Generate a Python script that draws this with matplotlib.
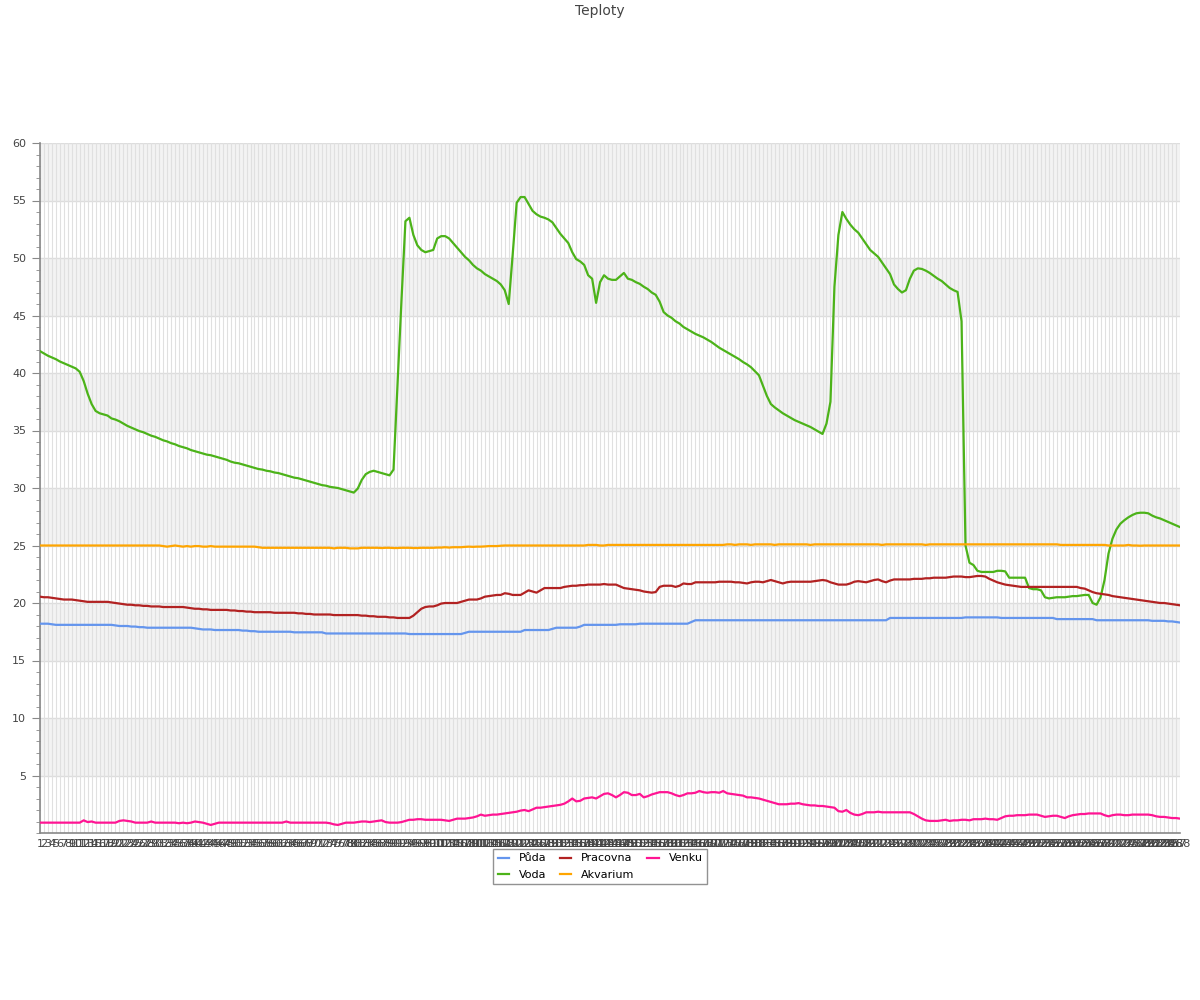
import matplotlib
matplotlib.use("Agg")
import matplotlib.pyplot as plt
from matplotlib.ticker import MultipleLocator

title = "Teploty"
series_names = ["Půda", "Voda", "Pracovna", "Akvarium", "Venku"]
series_colors = ["#6495ed", "#4cb319", "#b22222", "#ffa500", "#ff1493"]

puda = [
    18.2, 18.2, 18.2, 18.15, 18.1, 18.1, 18.1, 18.1, 18.1, 18.1,
    18.1, 18.1, 18.1, 18.1, 18.1, 18.1, 18.1, 18.1, 18.1, 18.05,
    18.0, 18.0, 18.0, 17.95, 17.95, 17.9, 17.9, 17.85, 17.85, 17.85,
    17.85, 17.85, 17.85, 17.85, 17.85, 17.85, 17.85, 17.85, 17.85, 17.8,
    17.75, 17.7, 17.7, 17.7, 17.65, 17.65, 17.65, 17.65, 17.65, 17.65,
    17.65, 17.6, 17.6, 17.55, 17.55, 17.5, 17.5, 17.5, 17.5, 17.5,
    17.5, 17.5, 17.5, 17.5, 17.45, 17.45, 17.45, 17.45, 17.45, 17.45,
    17.45, 17.45, 17.35, 17.35, 17.35, 17.35, 17.35, 17.35, 17.35, 17.35,
    17.35, 17.35, 17.35, 17.35, 17.35, 17.35, 17.35, 17.35, 17.35, 17.35,
    17.35, 17.35, 17.35, 17.3, 17.3, 17.3, 17.3, 17.3, 17.3, 17.3,
    17.3, 17.3, 17.3, 17.3, 17.3, 17.3, 17.3, 17.4, 17.5, 17.5,
    17.5, 17.5, 17.5, 17.5, 17.5, 17.5, 17.5, 17.5, 17.5, 17.5,
    17.5, 17.5, 17.65, 17.65, 17.65, 17.65, 17.65, 17.65, 17.65, 17.75,
    17.85, 17.85, 17.85, 17.85, 17.85, 17.85, 17.95, 18.1, 18.1, 18.1,
    18.1, 18.1, 18.1, 18.1, 18.1, 18.1, 18.15, 18.15, 18.15, 18.15,
    18.15, 18.2, 18.2, 18.2, 18.2, 18.2, 18.2, 18.2, 18.2, 18.2,
    18.2, 18.2, 18.2, 18.2, 18.35, 18.5, 18.5, 18.5, 18.5, 18.5,
    18.5, 18.5, 18.5, 18.5, 18.5, 18.5, 18.5, 18.5, 18.5, 18.5,
    18.5, 18.5, 18.5, 18.5, 18.5, 18.5, 18.5, 18.5, 18.5, 18.5,
    18.5, 18.5, 18.5, 18.5, 18.5, 18.5, 18.5, 18.5, 18.5, 18.5,
    18.5, 18.5, 18.5, 18.5, 18.5, 18.5, 18.5, 18.5, 18.5, 18.5,
    18.5, 18.5, 18.5, 18.5, 18.7, 18.7, 18.7, 18.7, 18.7, 18.7,
    18.7, 18.7, 18.7, 18.7, 18.7, 18.7, 18.7, 18.7, 18.7, 18.7,
    18.7, 18.7, 18.7, 18.75, 18.75, 18.75, 18.75, 18.75, 18.75, 18.75,
    18.75, 18.75, 18.7, 18.7, 18.7, 18.7, 18.7, 18.7, 18.7, 18.7,
    18.7, 18.7, 18.7, 18.7, 18.7, 18.7, 18.6, 18.6, 18.6, 18.6,
    18.6, 18.6, 18.6, 18.6, 18.6, 18.6, 18.5, 18.5, 18.5, 18.5,
    18.5, 18.5, 18.5, 18.5, 18.5, 18.5, 18.5, 18.5, 18.5, 18.5,
    18.45, 18.45, 18.45, 18.45, 18.4, 18.4, 18.35, 18.3,
]

voda = [
    41.9, 41.7, 41.5, 41.35, 41.2, 41.0, 40.85, 40.7, 40.55, 40.4,
    40.1, 39.3, 38.2, 37.3, 36.7, 36.5, 36.4, 36.3, 36.05, 35.95,
    35.8, 35.6, 35.4, 35.25, 35.1, 34.95, 34.85, 34.7, 34.55, 34.45,
    34.3, 34.15, 34.05, 33.9, 33.8, 33.65, 33.55, 33.45, 33.3, 33.2,
    33.1, 33.0, 32.9, 32.85, 32.75, 32.65, 32.55, 32.45, 32.3, 32.2,
    32.15, 32.05, 31.95, 31.85, 31.75, 31.65, 31.6, 31.5, 31.45, 31.35,
    31.3, 31.2, 31.1, 31.0, 30.9, 30.85, 30.75, 30.65, 30.55, 30.45,
    30.35, 30.25, 30.2, 30.1, 30.05, 30.0, 29.9, 29.8, 29.7, 29.6,
    29.95, 30.7, 31.2, 31.4, 31.5, 31.4, 31.3, 31.2, 31.1, 31.6,
    39.0, 46.3, 53.2, 53.5, 52.0, 51.1, 50.7, 50.5, 50.6, 50.7,
    51.7, 51.9, 51.9, 51.7, 51.3, 50.9, 50.5, 50.1, 49.8, 49.4,
    49.1, 48.9, 48.6, 48.4, 48.2, 48.0, 47.7, 47.2, 46.0, 50.3,
    54.8, 55.3, 55.3, 54.7, 54.1, 53.8, 53.6, 53.5, 53.35, 53.1,
    52.6, 52.1, 51.7, 51.3, 50.5, 49.9, 49.7, 49.4, 48.5, 48.2,
    46.1, 47.9, 48.5, 48.2, 48.1, 48.1, 48.4, 48.7, 48.2, 48.1,
    47.9, 47.75, 47.5, 47.3, 47.0, 46.8, 46.2, 45.3, 45.0, 44.8,
    44.5, 44.3, 44.0, 43.8, 43.6, 43.4, 43.25, 43.1, 42.9, 42.7,
    42.45, 42.2, 42.0, 41.8, 41.6, 41.4, 41.2, 40.95, 40.75, 40.5,
    40.15, 39.8, 38.9, 38.0, 37.3, 37.0, 36.75, 36.5, 36.3, 36.1,
    35.9, 35.75, 35.6, 35.45, 35.3, 35.1, 34.9, 34.7, 35.6, 37.5,
    47.5, 52.0, 54.0, 53.4, 52.9, 52.5, 52.2, 51.7, 51.2, 50.7,
    50.4, 50.1, 49.6, 49.1, 48.6, 47.7, 47.3, 47.0, 47.2, 48.2,
    48.9, 49.1, 49.05, 48.9, 48.7, 48.45, 48.2, 48.0, 47.7, 47.4,
    47.2, 47.05, 44.5, 25.0, 23.5, 23.3, 22.8, 22.7, 22.7, 22.7,
    22.7, 22.8, 22.8, 22.75, 22.2, 22.2, 22.2, 22.2, 22.2, 21.3,
    21.2, 21.2, 21.1, 20.5, 20.4, 20.45, 20.5, 20.5, 20.5, 20.55,
    20.6, 20.6, 20.65, 20.7, 20.7, 20.0, 19.85, 20.5, 22.0, 24.3,
    25.6, 26.4, 26.9, 27.2, 27.45, 27.65, 27.8, 27.85, 27.85, 27.8,
    27.6, 27.45, 27.35, 27.2, 27.05, 26.9, 26.75, 26.6,
]

pracovna = [
    20.55, 20.5, 20.5, 20.45, 20.4, 20.35, 20.3, 20.3, 20.3, 20.25,
    20.2, 20.15, 20.1, 20.1, 20.1, 20.1, 20.1, 20.1, 20.05, 20.0,
    19.95, 19.9, 19.85, 19.85, 19.8, 19.8, 19.75, 19.75, 19.7, 19.7,
    19.7, 19.65, 19.65, 19.65, 19.65, 19.65, 19.65, 19.6, 19.55, 19.5,
    19.5, 19.45, 19.45, 19.4, 19.4, 19.4, 19.4, 19.4, 19.35, 19.35,
    19.3, 19.3, 19.25, 19.25, 19.2, 19.2, 19.2, 19.2, 19.2, 19.15,
    19.15, 19.15, 19.15, 19.15, 19.15, 19.1, 19.1, 19.05, 19.05, 19.0,
    19.0, 19.0, 19.0, 19.0, 18.95, 18.95, 18.95, 18.95, 18.95, 18.95,
    18.95, 18.9, 18.9, 18.85, 18.85, 18.8, 18.8, 18.8, 18.75, 18.75,
    18.7, 18.7, 18.7, 18.7, 18.9, 19.2, 19.5, 19.65, 19.7, 19.7,
    19.8, 19.95, 20.0, 20.0, 20.0, 20.0, 20.1, 20.2, 20.3, 20.3,
    20.3, 20.4, 20.55, 20.6, 20.65, 20.7, 20.7, 20.85, 20.8, 20.7,
    20.7, 20.7, 20.9, 21.1, 21.0, 20.9, 21.1, 21.3, 21.3, 21.3,
    21.3, 21.3, 21.4, 21.45, 21.5, 21.5, 21.55, 21.55, 21.6, 21.6,
    21.6, 21.6, 21.65, 21.6, 21.6, 21.6, 21.45, 21.3, 21.25, 21.2,
    21.15, 21.1, 21.0, 20.95, 20.9, 20.95, 21.4, 21.5, 21.5, 21.5,
    21.4, 21.5, 21.7, 21.65, 21.65, 21.8, 21.8, 21.8, 21.8, 21.8,
    21.8, 21.85, 21.85, 21.85, 21.85, 21.8, 21.8, 21.75, 21.7, 21.8,
    21.85, 21.85, 21.8, 21.9, 22.0, 21.9, 21.8, 21.7, 21.8, 21.85,
    21.85, 21.85, 21.85, 21.85, 21.85, 21.9, 21.95, 22.0, 21.95, 21.8,
    21.7, 21.6, 21.6, 21.6, 21.7, 21.85, 21.9, 21.85, 21.8, 21.9,
    22.0, 22.05, 21.9, 21.8, 21.95, 22.05, 22.05, 22.05, 22.05, 22.05,
    22.1, 22.1, 22.1, 22.15, 22.15, 22.2, 22.2, 22.2, 22.2, 22.25,
    22.3, 22.3, 22.3, 22.25, 22.25, 22.3, 22.35, 22.35, 22.3, 22.1,
    21.95, 21.8, 21.7, 21.6, 21.55, 21.5, 21.45, 21.4, 21.4, 21.4,
    21.4, 21.4, 21.4, 21.4, 21.4, 21.4, 21.4, 21.4, 21.4, 21.4,
    21.4, 21.4, 21.3, 21.25, 21.1, 20.95, 20.85, 20.8, 20.75, 20.7,
    20.6, 20.55, 20.5, 20.45, 20.4, 20.35, 20.3, 20.25, 20.2, 20.15,
    20.1, 20.05, 20.0, 20.0, 19.95, 19.9, 19.85, 19.8,
]

akvarium = [
    25.0, 25.0, 25.0, 25.0, 25.0, 25.0, 25.0, 25.0, 25.0, 25.0,
    25.0, 25.0, 25.0, 25.0, 25.0, 25.0, 25.0, 25.0, 25.0, 25.0,
    25.0, 25.0, 25.0, 25.0, 25.0, 25.0, 25.0, 25.0, 25.0, 25.0,
    25.0, 24.95, 24.9, 24.95, 25.0, 24.95, 24.9, 24.95, 24.9, 24.95,
    24.95, 24.9, 24.9, 24.95, 24.9, 24.9, 24.9, 24.9, 24.9, 24.9,
    24.9, 24.9, 24.9, 24.9, 24.9, 24.85, 24.8, 24.8, 24.8, 24.8,
    24.8, 24.8, 24.8, 24.8, 24.8, 24.8, 24.8, 24.8, 24.8, 24.8,
    24.8, 24.8, 24.8, 24.8, 24.75, 24.8, 24.8, 24.8, 24.75, 24.75,
    24.75, 24.8, 24.8, 24.8, 24.8, 24.8, 24.78, 24.8, 24.8, 24.78,
    24.78, 24.8, 24.8, 24.8, 24.78, 24.78, 24.8, 24.8, 24.8, 24.8,
    24.82, 24.82, 24.85, 24.82, 24.85, 24.85, 24.85, 24.88, 24.9, 24.88,
    24.9, 24.9, 24.92, 24.95, 24.95, 24.95, 24.98, 25.0, 25.0, 25.0,
    25.0, 25.0, 25.0, 25.0, 25.0, 25.0, 25.0, 25.0, 25.0, 25.0,
    25.0, 25.0, 25.0, 25.0, 25.0, 25.0, 25.0, 25.0, 25.05, 25.05,
    25.05, 25.0, 25.0, 25.05, 25.05, 25.05, 25.05, 25.05, 25.05, 25.05,
    25.05, 25.05, 25.05, 25.05, 25.05, 25.05, 25.05, 25.05, 25.05, 25.05,
    25.05, 25.05, 25.05, 25.05, 25.05, 25.05, 25.05, 25.05, 25.05, 25.05,
    25.05, 25.05, 25.05, 25.1, 25.1, 25.05, 25.1, 25.1, 25.1, 25.05,
    25.1, 25.1, 25.1, 25.1, 25.1, 25.05, 25.1, 25.1, 25.1, 25.1,
    25.1, 25.1, 25.1, 25.1, 25.05, 25.1, 25.1, 25.1, 25.1, 25.1,
    25.1, 25.1, 25.1, 25.1, 25.1, 25.1, 25.1, 25.1, 25.1, 25.1,
    25.1, 25.1, 25.05, 25.1, 25.1, 25.1, 25.1, 25.1, 25.1, 25.1,
    25.1, 25.1, 25.1, 25.05, 25.1, 25.1, 25.1, 25.1, 25.1, 25.1,
    25.1, 25.1, 25.1, 25.1, 25.1, 25.1, 25.1, 25.1, 25.1, 25.1,
    25.1, 25.1, 25.1, 25.1, 25.1, 25.1, 25.1, 25.1, 25.1, 25.1,
    25.1, 25.1, 25.1, 25.1, 25.1, 25.1, 25.1, 25.05, 25.05, 25.05,
    25.05, 25.05, 25.05, 25.05, 25.05, 25.05, 25.05, 25.05, 25.05, 25.0,
    25.0, 25.0, 25.0, 25.0, 25.05, 25.0, 25.0, 24.98, 25.0, 25.0,
    25.0, 25.0, 25.0, 25.0, 25.0, 25.0, 25.0, 25.0,
]

venku = [
    0.9, 0.9, 0.9, 0.9, 0.9, 0.9, 0.9, 0.9, 0.9, 0.9,
    0.9, 1.1, 0.95, 1.0, 0.9, 0.9, 0.9, 0.9, 0.9, 0.9,
    1.05, 1.1, 1.05, 1.0, 0.9, 0.9, 0.9, 0.9, 1.0, 0.9,
    0.9, 0.9, 0.9, 0.9, 0.9, 0.85, 0.9, 0.85, 0.9, 1.0,
    0.95, 0.9, 0.8, 0.7, 0.8, 0.9, 0.9, 0.9, 0.9, 0.9,
    0.9, 0.9, 0.9, 0.9, 0.9, 0.9, 0.9, 0.9, 0.9, 0.9,
    0.9, 0.9, 1.0, 0.9, 0.9, 0.9, 0.9, 0.9, 0.9, 0.9,
    0.9, 0.9, 0.9, 0.85, 0.75, 0.7, 0.8, 0.9, 0.9, 0.9,
    0.95, 1.0, 1.0, 0.95, 1.0, 1.05, 1.1, 0.95, 0.9, 0.9,
    0.9, 0.95, 1.05, 1.15, 1.15, 1.2, 1.2, 1.15, 1.15, 1.15,
    1.15, 1.15, 1.1, 1.05, 1.15, 1.25, 1.25, 1.25, 1.3, 1.35,
    1.45, 1.6, 1.5, 1.55, 1.6, 1.6, 1.65, 1.7, 1.75, 1.8,
    1.85, 1.95, 2.0, 1.9, 2.05, 2.2, 2.2, 2.25, 2.3, 2.35,
    2.4, 2.45, 2.55, 2.75, 3.0, 2.75, 2.8, 3.0, 3.05, 3.1,
    3.0, 3.2, 3.4, 3.45, 3.3, 3.1, 3.3, 3.55, 3.5, 3.3,
    3.3, 3.4, 3.1, 3.2, 3.35, 3.45, 3.55, 3.55, 3.55, 3.45,
    3.3, 3.2, 3.3, 3.45, 3.45, 3.5, 3.65, 3.55, 3.5, 3.55,
    3.55, 3.5, 3.65, 3.45, 3.4, 3.35, 3.3, 3.25, 3.1, 3.1,
    3.05, 3.0, 2.9, 2.8, 2.7, 2.6, 2.5, 2.5, 2.5, 2.55,
    2.55, 2.6, 2.5, 2.45, 2.4, 2.4, 2.35, 2.35, 2.3, 2.25,
    2.2, 1.9, 1.85, 2.0, 1.75, 1.6, 1.55, 1.65, 1.8, 1.8,
    1.8, 1.85, 1.8, 1.8, 1.8, 1.8, 1.8, 1.8, 1.8, 1.8,
    1.65, 1.45, 1.25, 1.1, 1.05, 1.05, 1.05, 1.1, 1.15, 1.05,
    1.1, 1.1, 1.15, 1.15, 1.1, 1.2, 1.2, 1.2, 1.25, 1.2,
    1.2, 1.15, 1.3, 1.45, 1.5, 1.5, 1.55, 1.55, 1.55, 1.6,
    1.6, 1.6, 1.5, 1.4, 1.45, 1.5, 1.5, 1.4, 1.3, 1.45,
    1.55, 1.6, 1.65, 1.65, 1.7, 1.7, 1.7, 1.7, 1.55, 1.45,
    1.55, 1.6, 1.6, 1.55, 1.55, 1.6, 1.6, 1.6, 1.6, 1.6,
    1.55, 1.45, 1.4, 1.4, 1.35, 1.3, 1.3, 1.25,
]

# category labels 1..288 (one reading every 5 minutes)
labels = [str(n) for n in range(1, len(voda) + 1)]
x = list(range(len(voda)))

fig = plt.figure(figsize=(12, 10), dpi=100)
ax = fig.add_axes([40 / 1200, 167 / 1000, 1140 / 1200, 690 / 1000])

# alternating grey bands every 5 degrees
for lo in range(5, 60, 10):
    ax.axhspan(lo, lo + 5, color="#f3f3f3", zorder=0, lw=0)

for yv in range(5, 65, 5):
    ax.axhline(yv, color="#dddddd", lw=1, zorder=1)
for xv in x:
    ax.axvline(xv, color="#e0e0e0", lw=0.8, zorder=1)

for vals, name, col in zip([puda, voda, pracovna, akvarium, venku], series_names, series_colors):
    ax.plot(x, vals, color=col, lw=1.6, label=name, zorder=3)

ax.set_xlim(0, len(voda) - 1)
ax.set_ylim(0, 60)

ax.yaxis.set_major_locator(MultipleLocator(5))
ax.yaxis.set_minor_locator(MultipleLocator(1))
ax.set_yticks(range(5, 65, 5))
ax.set_yticklabels([str(v) for v in range(5, 65, 5)])
ax.tick_params(axis="y", which="major", length=6, color="#888888", labelsize=8, labelcolor="#444444", pad=4)
ax.tick_params(axis="y", which="minor", length=3, color="#888888")

ax.set_xticks(x)
ax.set_xticklabels(labels, fontsize=8, color="#444444")
ax.tick_params(axis="x", length=0, pad=4)

for side in ["top", "right"]:
    ax.spines[side].set_visible(False)
for side in ["left", "bottom"]:
    ax.spines[side].set_color("#888888")
    ax.spines[side].set_linewidth(1.2)

fig.text(0.5, 0.989, title, ha="center", va="center", fontsize=10, color="#444444")

leg = fig.legend(loc="upper center", bbox_to_anchor=(0.5, 0.151), ncol=3, fontsize=8,
                 frameon=True, fancybox=False, handlelength=1.0, columnspacing=1.2,
                 handletextpad=0.9, labelspacing=0.55, borderpad=0.4, borderaxespad=0)
leg.get_frame().set_edgecolor("#777777")
leg.get_frame().set_linewidth(1)

fig.savefig("out.png", dpi=100)
